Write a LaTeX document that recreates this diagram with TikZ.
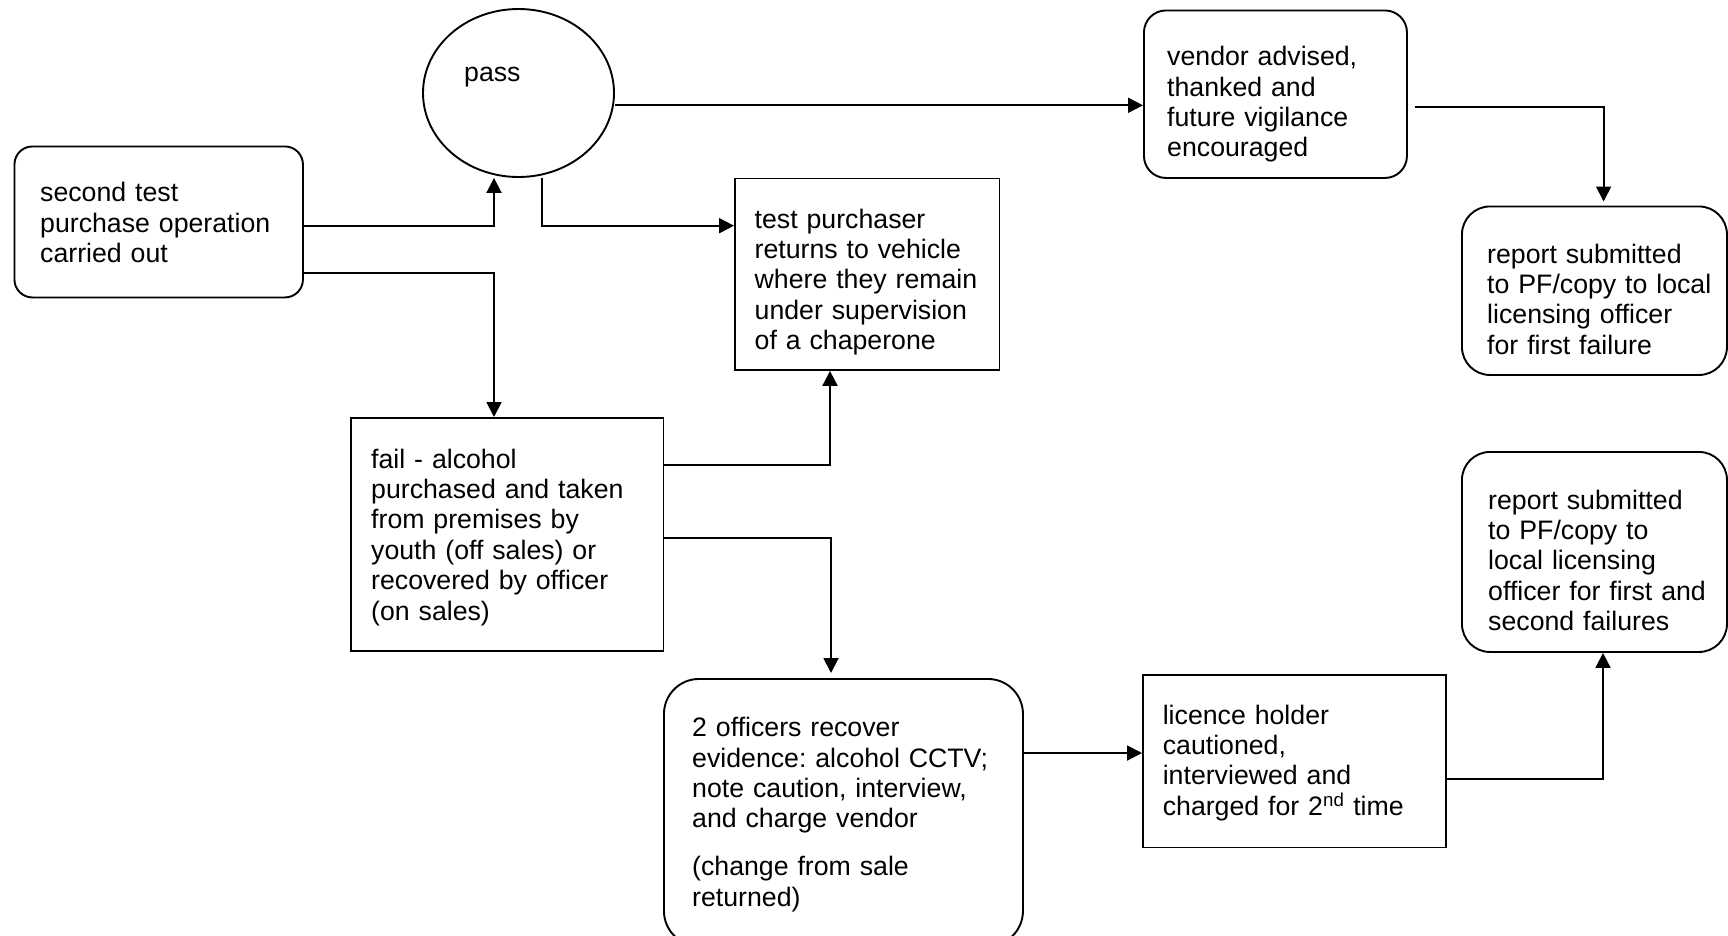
\documentclass[tikz,border=0pt]{standalone}
\usepackage{fontspec}
\setmainfont{Liberation Sans}
\usetikzlibrary{arrows.meta,shapes.geometric,calc}
\newcommand\boxfont{\fontsize{26.7pt}{30.4pt}\selectfont\frenchspacing}
\tikzset{
  lw/.style={line width=1.9pt},
  rbox/.style={draw, lw, anchor=north west, inner sep=0pt, rounded corners=#1},
  rbox/.default=20pt,
  sbox/.style={draw, lw, anchor=north west, inner sep=0pt},
  txt/.style={font=\boxfont, align=left, text width=420pt, inner sep=0pt, anchor=base west},
  arr/.style={lw, -{Triangle[length=15pt,width=15pt]}},
}
\begin{document}
\begin{tikzpicture}[x=1pt,y=-1pt]
\useasboundingbox (0,0) rectangle (1728,935);
% boxes
\node[rbox=18pt, minimum width=288.5pt, minimum height=151pt] (b1) at (13.5,145.5) {};
\node[draw, lw, ellipse, inner sep=0pt, minimum width=191pt, minimum height=168pt] (pass) at (518.5,93) {};
\node[rbox=22pt, minimum width=263pt, minimum height=167.5pt] (vendor) at (1143,9.5) {};
\node[sbox, minimum width=264.5pt, minimum height=191.5pt] (tp) at (734,177.5) {};
\node[rbox=28pt, minimum width=265pt, minimum height=168.5pt] (r1) at (1461,205.5) {};
\node[sbox, minimum width=312.5pt, minimum height=233pt] (fail) at (350,417) {};
\node[rbox=28pt, minimum width=265pt, minimum height=200pt] (r2) at (1461,451) {};
\node[rbox=35pt, minimum width=359pt, minimum height=267pt] (off) at (663,678) {};
\node[sbox, minimum width=303pt, minimum height=172.5pt] (lic) at (1142,674) {};
% texts
\node[txt] at (40,201.7) {second test\\purchase operation\\carried out};
\node[txt] at (464,81) {pass};
\node[txt] at (1167,65.7) {vendor advised,\\thanked and\\future vigilance\\encouraged};
\node[txt] at (754.5,228) {test purchaser\\returns to vehicle\\where they remain\\under supervision\\of a chaperone};
\node[txt] at (1487,263) {report submitted\\to PF/copy to local\\licensing officer\\for first failure};
\node[txt] at (371,468) {fail - alcohol\\purchased and taken\\from premises by\\youth (off sales) or\\recovered by officer\\(on sales)};
\node[txt] at (1488,509) {report submitted\\to PF/copy to\\local licensing\\officer for first and\\second failures};
\node[txt] at (692,736.7) {2 officers recover\\evidence: alcohol CCTV;\\note caution, interview,\\and charge vendor\\[17.5pt](change from sale\\returned)};
\node[txt] at (1162.6,724) {licence holder\\cautioned,\\interviewed and\\charged for 2\textsuperscript{nd} time};
% junction coordinates
\coordinate (c1) at (494,225.7);
\coordinate (c2) at (542,225.7);
\coordinate (c3) at (494,273.3);
\coordinate (c4) at (0,105.3);
\coordinate (c5) at (1603.6,106.7);
\coordinate (c6) at (830,465);
\coordinate (c7) at (831,537.7);
\coordinate (c8) at (0,753);
\coordinate (c9) at (1603,779);
% connectors
\draw[arr] (b1.east |- c1) -| (pass.south -| c1);
\draw[arr] (pass.south -| c2) |- (tp.west |- c2);
\draw[arr] (b1.east |- c3) -| (fail.north -| c3);
\draw[arr] (pass.east |- c4) -- (vendor.west |- c4);
\draw[arr, shorten >=4pt] ([xshift=7pt]vendor.east |- c5) -| (r1.north -| c5);
\draw[arr] (fail.east |- c6) -| (tp.south -| c6);
\draw[arr, shorten >=5pt] (fail.east |- c7) -| (off.north -| c7);
\draw[arr] (off.east |- c8) -- (lic.west |- c8);
\draw[arr] (lic.east |- c9) -| (r2.south -| c9);
\end{tikzpicture}
\end{document}
